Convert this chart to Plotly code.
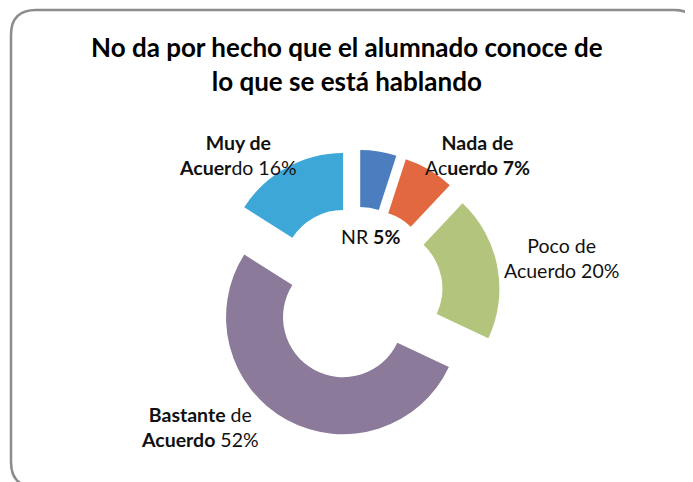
import plotly.graph_objects as go

# =====================================================
# Data
# =====================================================

categories = ["NR", "Nada de Acuerdo", "Poco de Acuerdo", "Bastante de Acuerdo", "Muy de Acuerdo"]
values = [5, 7, 20, 52, 16]
colors = ["#4B7DBF", "#E2693F", "#B3C57C", "#8B7A9A", "#3DA7D7"]

# label text as in the picture (mixed weights kept)
label_text = [
    "NR <b>5%</b>",
    "<b>Nada de</b><br>Ac<b>uerdo 7%</b>",
    "Poco de<br>Acuerdo 20%",
    "<b>Bastante</b> de<br><b>Acuerdo</b> 52%",
    "<b>Muy de</b><br><b>Acuer</b>do 16%",
]

TITLE = "No da por hecho que el alumnado conoce de<br>lo que se está hablando"

# page is 693x482, figure starts after the 8px body margin
OFF = 8
W, H = 693 - OFF, 482 - OFF
FONT = "Lato"

# label centres in page pixels
label_pos = [(370, 236), (477, 155), (561, 258), (200, 427), (238, 155)]


def fx(v):
    return (v - OFF) / W


def fy(v):
    return 1 - (v - OFF) / H


# =====================================================
# Figure
# =====================================================

fig = go.Figure(
    go.Pie(
        labels=categories,
        values=values,
        sort=False,
        direction="clockwise",
        rotation=0,
        hole=0.513,
        pull=[0.23] * len(values),
        marker=dict(colors=colors, line=dict(width=0)),
        textinfo="none",
        hoverinfo="label+percent",
        domain=dict(x=[fx(212.1), fx(499.9)], y=[fy(437.5), fy(149.7)]),
        showlegend=False,
    )
)

for txt, (px_, py_) in zip(label_text, label_pos):
    fig.add_annotation(
        x=fx(px_), y=fy(py_),
        xref="paper", yref="paper",
        xanchor="center", yanchor="middle",
        text=txt, showarrow=False,
        font=dict(family=FONT, size=19.5, color="#111111"),
        align="center",
    )

fig.add_annotation(
    x=fx(347), y=fy(64),
    xref="paper", yref="paper",
    xanchor="center", yanchor="middle",
    text="<b>" + TITLE + "</b>", showarrow=False,
    font=dict(family=FONT, size=26, color="black"),
    align="center",
)

# rounded frame
x0, x1, y0, y1, rad = 11, 699, 10, 487, 25

path = (
    f"M {fx(x0 + rad)},{fy(y0)} L {fx(x1 - rad)},{fy(y0)} "
    f"Q {fx(x1)},{fy(y0)} {fx(x1)},{fy(y0 + rad)} "
    f"L {fx(x1)},{fy(y1 - rad)} Q {fx(x1)},{fy(y1)} {fx(x1 - rad)},{fy(y1)} "
    f"L {fx(x0 + rad)},{fy(y1)} Q {fx(x0)},{fy(y1)} {fx(x0)},{fy(y1 - rad)} "
    f"L {fx(x0)},{fy(y0 + rad)} Q {fx(x0)},{fy(y0)} {fx(x0 + rad)},{fy(y0)} Z"
)

fig.add_shape(
    type="path", path=path, xref="paper", yref="paper",
    line=dict(color="#8C8C8C", width=2.5),
)

fig.update_layout(
    width=W,
    height=H,
    margin=dict(l=0, r=0, t=0, b=0),
    paper_bgcolor="white",
    plot_bgcolor="white",
)

fig.write_html("out.html")
